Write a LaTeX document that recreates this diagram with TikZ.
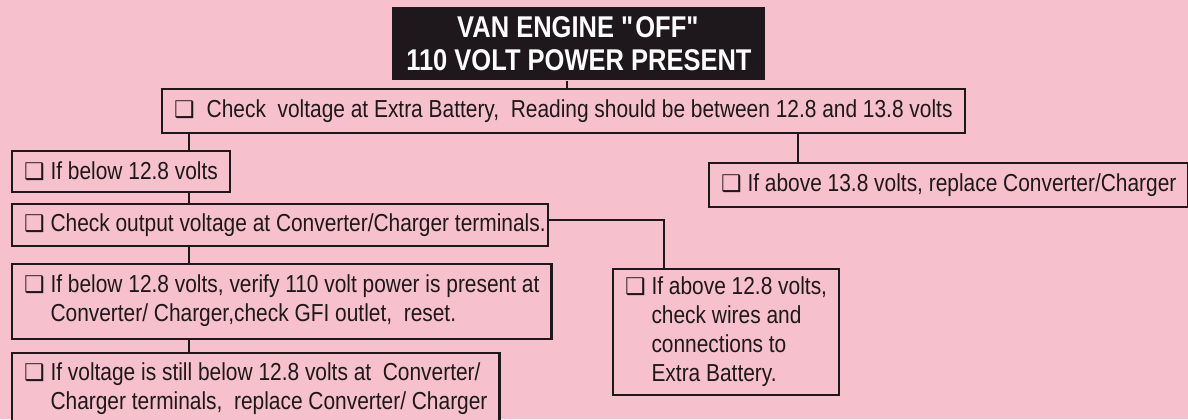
\documentclass[tikz,border=0pt]{standalone}
\usepackage{fontspec}
\setmainfont{Liberation Sans}[FakeStretch=0.85]
\newfontfamily\boxglyph{DejaVu Sans}
\definecolor{vanpink}{RGB}{246,193,204}
\definecolor{ink}{RGB}{30,24,28}
\newcommand{\tick}{{\boxglyph\fontsize{11.5}{11.5}\selectfont ❑}}

\begin{document}
\begin{tikzpicture}[x=0.5pt,y=-0.5pt,
  font=\fontsize{12.3}{14.5}\selectfont,
  stepbox/.style={draw=ink,line width=1.1pt,fill=vanpink,anchor=north west,align=left,inner xsep=6pt,inner ysep=0pt,text=ink},
  head/.style={fill=ink,text=white,anchor=north west,align=center,inner sep=0pt,font=\fontsize{15}{16.5}\selectfont\bfseries},
  wire/.style={draw=ink,line width=1pt}]

% --- page, in pixels of the scan ---
\useasboundingbox (0,0) rectangle (1188,419);
\fill[vanpink] (0,0) rectangle (1188,419);
\clip (0,0) rectangle (1188,419);

% --- heading ---
\node[head,minimum width=186.5pt,minimum height=36.5pt] (title) at (392,7)
  {VAN ENGINE \textquotedbl OFF\textquotedbl\\110 VOLT POWER PRESENT};

% --- steps, left column and branches ---
\node[stepbox,minimum height=22pt] (check) at (161,88)
  {\tick\hspace{6pt}Check~ voltage at Extra Battery,~ Reading should be between 12.8 and 13.8 volts};
\node[stepbox,minimum height=20.5pt] (ifbelow) at (11,150) {\tick\ If below 12.8 volts};
\node[stepbox,minimum height=22pt] (above13) at (708,162) {\tick\ If above 13.8 volts, replace Converter/Charger};
\node[stepbox,minimum height=21pt] (chkout) at (11,203)
  {\tick\ Check output voltage at Converter/Charger terminals.\hspace{-5pt}};
\node[stepbox,minimum height=37.5pt] (verify) at (11,263)
  {\tick\ \begin{tabular}[t]{@{}l@{}}If below 12.8 volts, verify 110 volt power is present at\\Converter/ Charger,check GFI outlet,~ reset.\end{tabular}};
\node[stepbox,minimum height=63pt] (above128) at (612,268)
  {\tick\ \begin{tabular}[t]{@{}l@{}}If above 12.8 volts,\\check wires and\\connections to\\Extra Battery.\end{tabular}};
\node[stepbox,minimum height=36pt] (still) at (11,352)
  {\tick\ \begin{tabular}[t]{@{}l@{}}If voltage is still below 12.8 volts at~ Converter/\\Charger terminals,~ replace Converter/ Charger\end{tabular}};

% --- connectors ---
\coordinate (stem) at (567,0);
\coordinate (spine) at (189,0);
\coordinate (rise) at (798,0);
\coordinate (drop) at (664,0);
\draw[wire] (title.south -| stem) -- (check.north -| stem);
\draw[wire] (check.south -| spine) -- (ifbelow.north -| spine);
\draw[wire] (check.south -| rise) -- (above13.north -| rise);
\draw[wire] (ifbelow.south -| spine) -- (chkout.north -| spine);
\draw[wire] (chkout.south -| spine) -- (verify.north -| spine);
\draw[wire] (verify.south -| spine) -- (still.north -| spine);
\draw[wire] ([yshift=2.5pt]chkout.east) -| (above128.north -| drop);
\end{tikzpicture}
\end{document}
